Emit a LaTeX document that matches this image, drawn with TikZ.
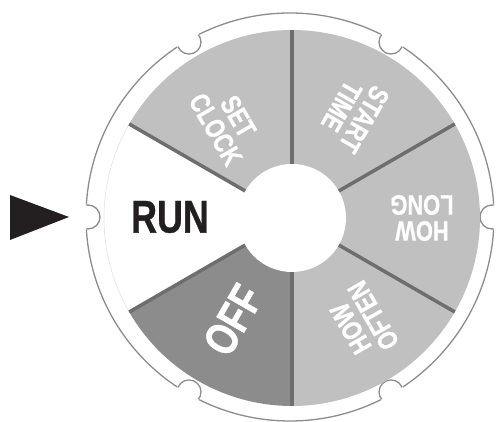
\documentclass[tikz,border=0pt]{standalone}
\usepackage{fontspec}
\setmainfont[FakeStretch=0.78, BoldFeatures={FakeBold=0.8}]{Liberation Sans}
\definecolor{sectorlight}{HTML}{C0C0C0}
\definecolor{sectordark}{HTML}{8C8C8C}
\definecolor{dividergray}{HTML}{6E6E6E}
\definecolor{ringgray}{HTML}{8C8C8C}
\definecolor{faintgray}{HTML}{E2E2E2}
\definecolor{pointerblack}{HTML}{231F20}
\tikzset{
  ringline/.style={draw=ringgray, line width=1.3pt},
  divider/.style={draw=dividergray, line width=3.5pt},
  biglabel/.style={font=\bfseries\fontsize{46}{46}\selectfont, inner sep=0pt},
  smalllabel/.style={font=\bfseries\fontsize{28}{26}\selectfont, text=white, align=center, inner sep=0pt},
}
\begin{document}
\begin{tikzpicture}[x=1pt,y=1pt]
\useasboundingbox (0,0) rectangle (499,422);
\coordinate (C) at (292,204);
\coordinate (R) at (290,205);
% outer ring with notches
\draw[ringline] (R) circle (204);
\foreach \a in {0,60,...,300}
  \fill[white] ([shift={(\a:202)}]R) circle (12.8);
\begin{scope}
  \clip (R) circle (204);
  \foreach \a in {0,60,...,300}
    \draw[ringline] ([shift={(\a:202)}]R) circle (12);
\end{scope}
% sectors
\foreach \s/\col in {30/sectorlight, 90/sectorlight, -30/sectorlight, -90/sectorlight, 210/sectordark}
  \fill[\col] (C) -- ([shift={(\s:188)}]C) arc[start angle=\s, delta angle=60, radius=188] -- cycle;
\draw[faintgray, line width=0.6pt] ([shift={(150:188)}]C) arc[start angle=150, end angle=210, radius=188];
% dividers
\foreach \a in {30,90,150,210,270,330}
  \draw[divider] ([shift={(\a:45)}]C) -- ([shift={(\a:188)}]C);
% hub
\fill[white] (C) circle (54);
% pointer
\fill[pointerblack] (10,227) -- (10,182) -- (69,205) -- cycle;
% labels
\node[biglabel, text=pointerblack] (run) at (170,205) {RUN};
\node[biglabel, text=white, rotate=60] (off) at (233,102) {OFF};
\node[smalllabel, rotate=-60] (setclock) at (227,299) {SET\\CLOCK};
\node[smalllabel, rotate=-120] (starttime) at (353,309) {START\\TIME};
\node[smalllabel, rotate=180] (howlong) at (422,204) {HOW\\LONG};
\node[smalllabel, rotate=120] (howoften) at (362,100) {HOW\\OFTEN};
\end{tikzpicture}
\end{document}
